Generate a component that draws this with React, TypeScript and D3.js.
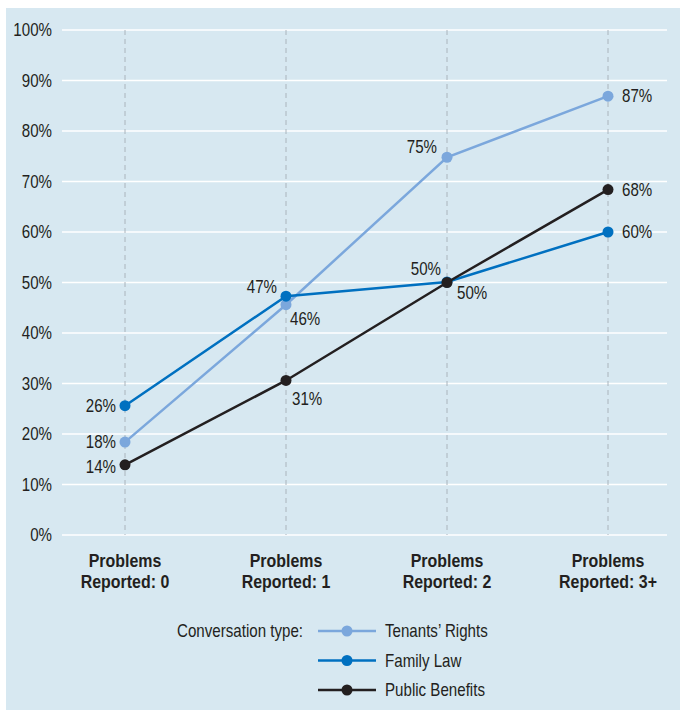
import React from "react";
import * as d3 from "d3";

const categories = ["Problems\nReported: 0", "Problems\nReported: 1", "Problems\nReported: 2", "Problems\nReported: 3+"];
const yTicks = [0, 10, 20, 30, 40, 50, 60, 70, 80, 90, 100];
const seriesNames = ["Tenants’ Rights", "Family Law", "Public Benefits"];
const tenantsValues = [18.4, 45.6, 74.8, 86.9];
const familyValues = [25.6, 47.3, 50.1, 60.0];
const publicValues = [13.9, 30.6, 50.0, 68.4];
const legendTitle = "Conversation type:";

const W = 680, H = 710;
const FONT = "'Liberation Sans', Arial, sans-serif";
const colors = ["#7ba7dc", "#0070c0", "#231f20"];
const seriesValues = [tenantsValues, familyValues, publicValues];
const SX = 0.84;

// label placement per series/point: [anchor, dx, dy]
const labelPos: [string, number, number][][] = [
  [["end", -9, 6], ["start", 4, 20], ["end", -10, -4], ["start", 14, 6]],
  [["end", -9, 6], ["end", -9, -3], ["end", -6, -7], ["start", 14, 6]],
  [["end", -9, 8], ["start", 6, 25], ["start", 10, 16], ["start", 14, 6]],
];

function T({ x, y, size, anchor, bold, children }: any) {
  return (
    <text
      transform={`translate(${x},${y}) scale(${SX},1)`}
      textAnchor={anchor || "start"}
      fontSize={size}
      fontWeight={bold ? "bold" : "normal"}
      fill="#231f20"
    >
      {children}
    </text>
  );
}

export default function App() {
  const x = d3.scalePoint<string>().domain(categories).range([125, 608]);
  const y = d3.scaleLinear().domain([0, 100]).range([535, 30]);
  const line = d3.line<number>().x((_, i) => x(categories[i])!).y((d) => y(d));

  return (
    <svg width={W} height={H} style={{ position: "absolute", left: 0, top: 0 }} fontFamily={FONT}>
      <rect x={6} y={8} width={W - 6} height={H - 8} fill="#d7e8f1" />
      {yTicks.map((t) => (
        <g key={t}>
          <line x1={62} x2={667} y1={y(t)} y2={y(t)} stroke="#fff" strokeWidth={1.5} />
          <T x={52} y={y(t) + 6} size={18} anchor="end">{t}%</T>
        </g>
      ))}
      {categories.map((c) => (
        <g key={c}>
          <line x1={x(c)} x2={x(c)} y1={y(100)} y2={y(0)} stroke="#aab4bc" strokeWidth={1} strokeDasharray="5,4" />
          {c.split("\n").map((s, i) => (
            <T key={i} x={x(c)} y={567 + i * 21} size={19} anchor="middle" bold>{s}</T>
          ))}
        </g>
      ))}
      {seriesValues.map((vals, si) => (
        <g key={si}>
          <path d={line(vals)!} fill="none" stroke={colors[si]} strokeWidth={2.5} />
          {vals.map((v, i) => (
            <circle key={i} cx={x(categories[i])} cy={y(v)} r={5.5} fill={colors[si]} />
          ))}
        </g>
      ))}
      {seriesValues.map((vals, si) => (
        <g key={"l" + si}>
          {vals.map((v, i) => {
            const [anchor, dx, dy] = labelPos[si][i];
            return (
              <T key={i} x={x(categories[i])! + dx} y={y(v) + dy} size={18} anchor={anchor}>
                {Math.round(v)}%
              </T>
            );
          })}
        </g>
      ))}
      <T x={303} y={637} size={18} anchor="end">{legendTitle}</T>
      {seriesNames.map((n, i) => (
        <g key={n}>
          <line x1={318} x2={376} y1={631 + i * 29.5} y2={631 + i * 29.5} stroke={colors[i]} strokeWidth={2.5} />
          <circle cx={347} cy={631 + i * 29.5} r={5.5} fill={colors[i]} />
          <T x={385} y={637 + i * 29.5} size={18}>{n}</T>
        </g>
      ))}
    </svg>
  );
}
